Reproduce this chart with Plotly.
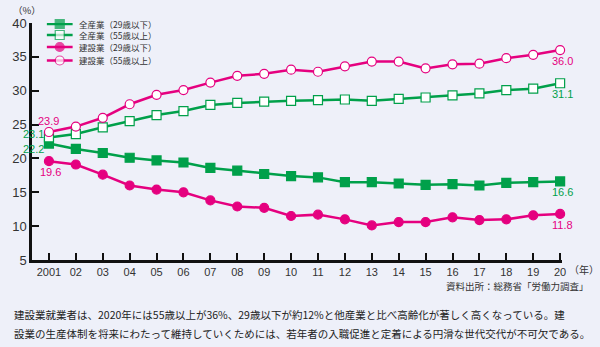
import plotly.graph_objects as go

years = list(range(2001, 2021))
tick_labels = ["2001"] + [f"{y % 100:02d}" for y in range(2002, 2021)]

all_u29 = [22.2, 21.4, 20.8, 20.1, 19.7, 19.4, 18.6, 18.2, 17.7, 17.4,
           17.2, 16.5, 16.5, 16.3, 16.1, 16.2, 16.0, 16.4, 16.5, 16.6]
all_o55 = [23.1, 23.6, 24.6, 25.5, 26.4, 27.0, 27.9, 28.2, 28.4, 28.5,
           28.6, 28.7, 28.5, 28.8, 29.0, 29.3, 29.6, 30.1, 30.3, 31.1]
con_u29 = [19.6, 19.1, 17.6, 16.0, 15.4, 15.0, 13.8, 12.9, 12.7, 11.5,
           11.7, 11.0, 10.1, 10.6, 10.6, 11.3, 10.9, 11.0, 11.6, 11.8]
con_o55 = [23.9, 24.7, 26.0, 28.0, 29.4, 30.1, 31.2, 32.2, 32.5, 33.1,
           32.8, 33.6, 34.3, 34.3, 33.3, 33.9, 34.0, 34.8, 35.3, 36.0]

GREEN = "#00A04A"
PINK = "#E5007F"
BG = "#EEF0F9"
JP = "Noto Sans CJK JP"
NUM = "Liberation Sans, Arial, sans-serif"

series = [
    ("全産業（29歳以下）", all_u29, GREEN, "square", GREEN),
    ("全産業（55歳以上）", all_o55, GREEN, "square", "white"),
    ("建設業（29歳以下）", con_u29, PINK, "circle", PINK),
    ("建設業（55歳以上）", con_o55, PINK, "circle", "white"),
]

# plot area in pixels
L, R, T, B = 27, 38, 23, 87
W, H = 600, 347
PW, PH = W - L - R, H - T - B
legend_rows = [24.0, 35.0, 47.0, 60.5]


def px_x(px):
    return (px - L) / PW


def px_y(py):
    return (H - B - py) / PH


fig = go.Figure()
for name, vals, col, sym, fill in series:
    fig.add_trace(go.Scatter(
        x=years, y=vals, name=name, mode="lines+markers",
        line=dict(color=col, width=2.5),
        marker=dict(symbol=sym, size=9, color=fill, line=dict(color=col, width=1.2)),
        cliponaxis=False, showlegend=False,
    ))

# legend samples on an overlay pixel axis
for (name, vals, col, sym, fill), ly in zip(series, legend_rows):
    fig.add_trace(go.Scatter(
        x=[42, 55, 68], y=[ly, ly, ly], xaxis="x2", yaxis="y2", mode="lines+markers",
        line=dict(color=col, width=2.5),
        marker=dict(symbol=sym, size=[0, 9, 0], color=fill, line=dict(color=col, width=[0, 1.2, 0])),
        showlegend=False, hoverinfo="skip", cliponaxis=False,
    ))
    fig.add_annotation(xref="paper", yref="paper", x=px_x(72), y=px_y(ly), text=name, showarrow=False,
                       xanchor="left", yanchor="middle",
                       font=dict(size=8.5, color="#333", family=JP))

# value labels
first_labels = [
    (con_o55[0], PINK, 0, -11),
    (all_o55[0], GREEN, -15, -3),
    (all_u29[0], GREEN, -15, 5),
    (con_u29[0], PINK, 2, 11),
]
for v, c, dx, dy in first_labels:
    fig.add_annotation(x=years[0], y=v, text=f"{v:.1f}", showarrow=False,
                       xshift=dx, yshift=-dy, font=dict(color=c, size=11, family=NUM))
for vals, c in [(con_o55, PINK), (all_o55, GREEN), (all_u29, GREEN), (con_u29, PINK)]:
    fig.add_annotation(x=years[-1], y=vals[-1], text=f"{vals[-1]:.1f}", showarrow=False,
                       xshift=2, yshift=-11, font=dict(color=c, size=11, family=NUM))

texts = [
    (6, 10, "（%）", "left", 9.5, "#333"),
    (567, 269.5, "（年）", "left", 10, "#333"),
    (591, 286, "資料出所：総務省「労働力調査」", "right", 9.5, "#333"),
    (7, 314, "建設業就業者は、2020年には55歳以上が36%、29歳以下が約12%と他産業と比べ高齢化が著しく高くなっている。建", "left", 10.5, "#222"),
    (7, 333, "設業の生産体制を将来にわたって維持していくためには、若年者の入職促進と定着による円滑な世代交代が不可欠である。", "left", 10.5, "#222"),
]
for px, py, t, anc, fs, col in texts:
    fig.add_annotation(xref="paper", yref="paper", x=px_x(px), y=px_y(py), text=t,
                       showarrow=False, xanchor=anc, yanchor="middle",
                       font=dict(size=fs, color=col, family=JP))

fig.update_layout(
    width=W, height=H,
    margin=dict(l=L, r=R, t=T, b=B),
    paper_bgcolor=BG, plot_bgcolor=BG,
    showlegend=False,
    xaxis=dict(range=[2000.37, 2020.07], tickmode="array", tickvals=years, ticktext=tick_labels,
               showgrid=False, zeroline=False, showline=True, linecolor="#111", linewidth=2.5,
               ticks="inside", ticklen=7, tickwidth=2, tickcolor="#111",
               tickfont=dict(size=11, color="#333", family=NUM)),
    yaxis=dict(range=[5, 40], tickvals=[5, 10, 15, 20, 25, 30, 35, 40],
               showgrid=False, zeroline=False, showline=True, linecolor="#111", linewidth=2.5,
               ticks="inside", ticklen=7, tickwidth=2, tickcolor="#111",
               tickfont=dict(size=13, color="#333", family=NUM)),
    xaxis2=dict(overlaying="x", range=[L, W - R], visible=False, fixedrange=True),
    yaxis2=dict(overlaying="y", range=[H - B, T], visible=False, fixedrange=True),
)

fig.write_html("out.html")
